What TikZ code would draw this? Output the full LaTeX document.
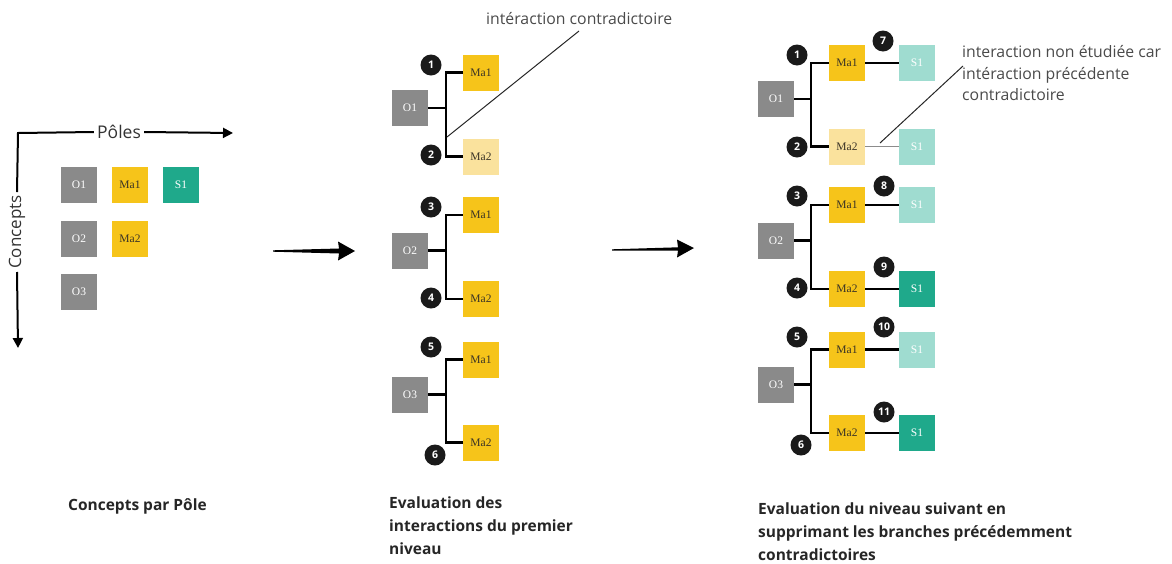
\documentclass[tikz,border=0pt]{standalone}
\usepackage{fontspec}
\setmainfont{Liberation Serif}
\newfontfamily\osans{Open Sans}
\usetikzlibrary{arrows.meta}
\definecolor{boxgray}{HTML}{8A8A8A}
\definecolor{boxyel}{HTML}{F6C41A}
\definecolor{lightyel}{HTML}{FAE29D}
\definecolor{tealdark}{HTML}{1FA98B}
\definecolor{teallight}{HTML}{9FDCD0}
\definecolor{darktext}{HTML}{3A3326}
\definecolor{annot}{HTML}{4A4A4A}
\definecolor{badgebk}{HTML}{1A1A1A}
\tikzset{
  box/.style={minimum size=36pt, inner sep=0pt, font=\rmfamily\fontsize{11.5}{13}\selectfont},
  gbox/.style={box, fill=boxgray, text=white},
  ybox/.style={box, fill=boxyel, text=darktext},
  lybox/.style={box, fill=lightyel, text=darktext},
  tbox/.style={box, fill=tealdark, text=white},
  ltbox/.style={box, fill=teallight, text=white},
  badge/.style={circle, fill=badgebk, text=white, minimum size=21pt, inner sep=0pt, font=\osans\bfseries\fontsize{10.5}{12}\selectfont},
  link/.style={line width=2.2pt, black},
  axis/.style={line width=2pt, black},
  annotline/.style={line width=1pt, black!85},
  annottext/.style={inner sep=0pt, anchor=west, text=annot, font=\osans\fontsize{15.8}{21.5}\selectfont, align=left},
  title/.style={inner sep=0pt, anchor=north west, text=black!85, font=\osans\bfseries\fontsize{15.5}{23}\selectfont, align=left},
  fatarrow/.style={fill=black}
}
\begin{document}
\begin{tikzpicture}[x=1pt,y=-1pt]
\useasboundingbox (0,0) rectangle (1172,563);

% ---------------- Panel 1 ----------------
\coordinate (ax0) at (18,133);
\coordinate (xend) at (233,133);
\coordinate (yend) at (18,348);
\node[inner sep=3pt, text=black!80, font=\osans\fontsize{17.5}{20}\selectfont] (poles) at (119,132) {Pôles};
\node[inner sep=3pt, rotate=90, text=black!80, font=\osans\fontsize{17}{20}\selectfont] (concepts) at (17,232) {Concepts};
\draw[axis] (poles.west) -- (ax0) -- (concepts.east);
\draw[axis,-{Triangle[length=10pt,width=10pt]}] (poles.east) -- (xend);
\draw[axis,-{Triangle[length=10pt,width=10pt]}] (concepts.west) -- (yend);

\node[gbox] (pO1) at (79,185) {O1};
\node[ybox] (pMa1) at (130,185) {Ma1};
\node[tbox] (pS1) at (181,185) {S1};
\node[gbox] (pO2) at (79,238.5) {O2};
\node[ybox] (pMa2) at (130,238.5) {Ma2};
\node[gbox] (pO3) at (79,291.5) {O3};

\node[title] (t1) at (68,498) {Concepts par Pôle};

% arrow 1
\fill[fatarrow] (273,250.3) -- (339,248.5) -- (338,241.5) -- (355,251) -- (338,260.5) -- (339,253.5) -- (273,251.7) -- cycle;

% ---------------- Panel 2 ----------------
\foreach \g/\oy in {1/108, 2/250.5, 3/394.5} {
  \node[gbox] (bO\g) at (410,\oy) {O\g};
  \coordinate (bj\g) at (446,\oy);
  \draw[link] (bO\g.east) -- (bj\g);
}
\node[ybox] (bA1) at (481,72.5) {Ma1};
\node[lybox] (bB1) at (481,156.5) {Ma2};
\node[ybox] (bA2) at (481,215) {Ma1};
\node[ybox] (bB2) at (481,299) {Ma2};
\node[ybox] (bA3) at (481,359.5) {Ma1};
\node[ybox] (bB3) at (481,442.5) {Ma2};
\foreach \g in {1,2,3} {
  \draw[link] (bA\g.west) -| (bj\g);
  \draw[link] (bB\g.west) -| (bj\g);
}
\node[badge] (n1) at (431,65) {1};
\node[badge] (n2) at (431,155) {2};
\node[badge] (n3) at (431,207) {3};
\node[badge] (n4) at (431,298) {4};
\node[badge] (n5) at (431,347) {5};
\node[badge] (n6) at (435,455) {6};

\node[annottext] (ann1) at (486,19) {intéraction contradictoire};
\coordinate (ann1a) at (447,137);
\coordinate (ann1b) at (579,31);
\draw[annotline] (ann1a) -- (ann1b);

\node[title] (t2) at (389,497) {Evaluation des\\interactions du premier\\niveau};

% arrow 2
\fill[fatarrow] (612,249.3) -- (678,247.3) -- (677,239.5) -- (694,248) -- (677,257.5) -- (678,250.7) -- (612,250.7) -- cycle;

% ---------------- Panel 3 ----------------
\foreach \g/\oy in {1/99, 2/240.5, 3/384.5} {
  \node[gbox] (cO\g) at (776,\oy) {O\g};
  \coordinate (cj\g) at (811,\oy);
  \draw[link] (cO\g.east) -- (cj\g);
}
\node[ybox] (cA1) at (847,63) {Ma1};
\node[lybox] (cB1) at (847,146.5) {Ma2};
\node[ybox] (cA2) at (847,205) {Ma1};
\node[ybox] (cB2) at (847,289) {Ma2};
\node[ybox] (cA3) at (847,349.5) {Ma1};
\node[ybox] (cB3) at (847,433) {Ma2};
\node[ltbox] (cSA1) at (917,63) {S1};
\node[ltbox] (cSB1) at (917,146.5) {S1};
\node[ltbox] (cSA2) at (917,205) {S1};
\node[tbox] (cSB2) at (917,289) {S1};
\node[ltbox] (cSA3) at (917,349.5) {S1};
\node[tbox] (cSB3) at (917,433) {S1};
\foreach \g in {1,2,3} {
  \draw[link] (cA\g.west) -| (cj\g);
  \draw[link] (cB\g.west) -| (cj\g);
  \draw[link] (cA\g) -- (cSA\g);
}
\draw[link] (cB2) -- (cSB2);
\draw[link] (cB3) -- (cSB3);
\draw[line width=0.8pt, black!45] (cB1) -- (cSB1);

\node[badge] (m1) at (797,55) {1};
\node[badge] (m2) at (797,147) {2};
\node[badge] (m3) at (797,196) {3};
\node[badge] (m4) at (797,288) {4};
\node[badge] (m5) at (797,337) {5};
\node[badge] (m6) at (801,445) {6};
\node[badge] (m7) at (883,41) {7};
\node[badge] (m8) at (884,186) {8};
\node[badge] (m9) at (884,267) {9};
\node[badge] (m10) at (884,327) {10};
\node[badge] (m11) at (884,412) {11};

\node[annottext] (ann2) at (962,73.5) {interaction non étudiée car\\intéraction précédente\\contradictoire};
\coordinate (ann2a) at (880,143);
\coordinate (ann2b) at (963,66);
\draw[annotline] (ann2a) -- (ann2b);

\node[title] (t3) at (758,503) {Evaluation du niveau suivant en\\supprimant les branches précédemment\\contradictoires};
\end{tikzpicture}
\end{document}
